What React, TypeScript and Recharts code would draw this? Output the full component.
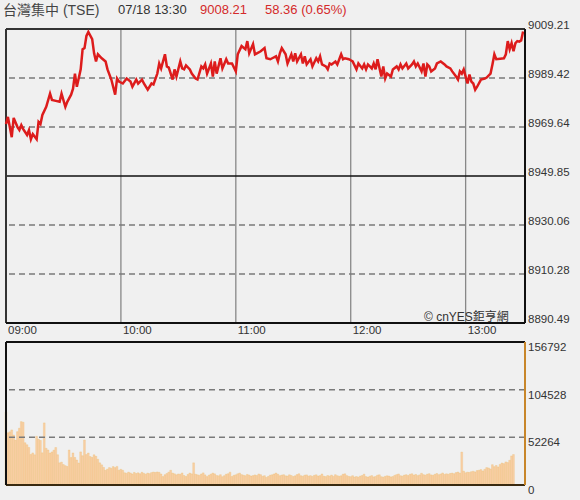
import { LineChart, Line, BarChart, Bar, XAxis, YAxis, ReferenceLine } from 'recharts';

// minutes after 09:00 and index level
const priceMinutes = [
  0, 1, 3, 4, 6, 7, 8, 9, 11, 12, 13, 14, 16, 17, 18, 19, 21, 23, 24, 26, 28, 29, 31, 32, 34, 35, 36, 37, 39, 40,
  41, 42, 43, 45, 46, 47, 48, 50, 52, 53, 55, 57, 58, 59, 61, 63, 65, 66, 68, 69, 71, 72, 74, 76, 77, 79, 80, 81, 83, 84,
  85, 87, 88, 89, 91, 92, 93, 94, 96, 97, 99, 100, 102, 103, 104, 105, 107, 108, 109, 110, 112, 113, 115, 116, 118, 120, 121, 123, 125, 126,
  127, 129, 130, 131, 133, 135, 136, 138, 139, 141, 142, 143, 144, 146, 147, 149, 150, 151, 152, 154, 155, 156, 157, 159, 160, 162, 163, 164, 165, 167,
  168, 169, 170, 172, 173, 175, 176, 177, 179, 180, 181, 183, 184, 186, 187, 188, 189, 191, 192, 193, 194, 196, 197, 198, 199, 201, 202, 204, 205, 206,
  207, 209, 210, 212, 213, 214, 215, 217, 218, 219, 220, 221, 222, 224, 225, 227, 229, 230, 232, 233, 235, 236, 237, 238, 239, 240, 241, 242, 243, 244,
  245, 246, 248, 250, 251, 253, 254, 255, 256, 258, 260, 261, 262, 263, 264, 265, 266, 267, 268, 269, 270,
];
const prices = [
  8970.8, 8973.7, 8965.5, 8973.3, 8969.6, 8968.4, 8970.4, 8968.8, 8966.4, 8968.4, 8964.7, 8966.8, 8964.7, 8971.7, 8970.8, 8974.5, 8977.8, 8983.1, 8980.6, 8980.2, 8979.8, 8983.1, 8977.8, 8979.8, 8982.7, 8985.1, 8991.2, 8985.9, 8992.9, 9001.0,
  9001.5, 9006.4, 9008.0, 9005.1, 8999.4, 8996.1, 8999.0, 8997.4, 8996.1, 8992.9, 8988.8, 8982.7, 8989.2, 8988.0, 8987.2, 8989.2, 8988.0, 8985.9, 8988.8, 8987.2, 8988.8, 8987.2, 8984.7, 8987.2, 8986.8, 8991.2, 8995.3, 8993.3, 8999.0, 8994.1,
  8993.6, 8988.8, 8992.9, 8990.0, 8996.1, 8993.3, 8992.9, 8994.5, 8992.9, 8991.2, 8989.2, 8988.8, 8994.1, 8993.3, 8994.9, 8991.2, 8995.3, 8990.0, 8996.1, 8991.2, 8997.4, 8993.3, 8997.0, 8995.3, 8995.3, 8992.1, 8999.0, 9002.3, 9001.0, 9004.3,
  8999.4, 9003.1, 8999.0, 8999.4, 9000.2, 9001.5, 8997.4, 8997.0, 8997.4, 8998.2, 8996.1, 8999.4, 9001.5, 8999.0, 8995.3, 8999.0, 8996.1, 8999.4, 8996.1, 8999.0, 8995.3, 8998.2, 8994.9, 8997.0, 8994.1, 8997.4, 8996.1, 8998.2, 8994.9, 8994.1,
  8992.9, 8995.3, 8994.9, 8996.1, 8994.9, 8999.0, 8997.0, 8997.4, 8997.0, 8996.6, 8996.1, 8992.9, 8995.3, 8993.3, 8994.9, 8992.9, 8994.9, 8993.3, 8995.3, 8992.9, 8997.0, 8990.0, 8994.1, 8989.2, 8991.2, 8990.0, 8992.9, 8994.1, 8992.9, 8994.9,
  8993.3, 8995.3, 8993.3, 8994.9, 8996.1, 8994.1, 8995.3, 8992.1, 8995.3, 8990.0, 8994.9, 8994.1, 8992.1, 8993.3, 8995.3, 8996.1, 8994.9, 8994.1, 8993.3, 8992.1, 8990.0, 8988.8, 8992.1, 8991.2, 8992.9, 8990.0, 8987.2, 8990.8, 8988.0, 8987.2,
  8984.7, 8985.9, 8988.8, 8989.2, 8989.6, 8991.2, 8994.9, 8999.0, 8997.0, 8997.2, 8997.4, 8999.0, 9004.3, 9001.0, 9003.5, 9000.2, 9003.5, 9004.3, 9004.1, 9004.6, 9008.21,
];

// one bar per minute from 09:00 to 13:25
const volumes = [
  80100, 57200, 58300, 60400, 54800, 49200, 58500, 62300, 69500, 68800,
  46300, 44100, 41200, 33500, 35200, 33100, 53400, 50200, 48900, 35300,
  68100, 40200, 38400, 35100, 36300, 38200, 41100, 33200, 24300, 25100,
  22400, 21200, 20300, 38400, 30100, 35200, 30200, 27400, 24100, 36300,
  32100, 49300, 33400, 35100, 31200, 30300, 33100, 31400, 28200, 24300,
  22100, 19300, 16200, 17400, 19100, 18300, 20200, 19100, 20400, 16300,
  17200, 16100, 13400, 12800, 14100, 13200, 12100, 13800, 12600, 13300,
  12400, 13900, 12800, 11900, 13100, 12500, 13600, 14200, 13800, 14300,
  13900, 12100, 9200, 11300, 12600, 14100, 16200, 13100, 12300, 11200,
  12100, 11800, 13200, 10400, 9300, 11600, 13100, 12200, 24300, 11900,
  11200, 10600, 12100, 13300, 11100, 9200, 10800, 11900, 13100, 12200,
  10400, 10100, 11300, 9100, 10200, 11800, 12400, 14100, 9300, 10600,
  11200, 12300, 13100, 11400, 10800, 10200, 11600, 10900, 9800, 10300,
  11100, 10400, 12100, 11300, 9600, 10200, 8300, 9400, 10800, 11200,
  12100, 13100, 11800, 10200, 10900, 11300, 10100, 9900, 11200, 10400,
  9300, 10100, 11400, 12300, 10200, 9600, 10800, 11100, 9800, 10300,
  9400, 10600, 11200, 9900, 10300, 12100, 9700, 9200, 10400, 9800,
  10900, 9500, 11300, 10200, 9600, 10100, 11800, 12200, 10300, 9400,
  9100, 10200, 8800, 9300, 8600, 9800, 10400, 11900, 9200, 8700,
  9600, 10300, 8900, 9400, 10800, 11200, 9100, 8600, 9500, 10100,
  9800, 8900, 9300, 10600, 11400, 12100, 10200, 9700, 10900, 11300,
  10400, 11800, 12300, 10900, 11600, 10300, 11100, 12900, 11400, 10800,
  11900, 12400, 11100, 10700, 11800, 12600, 11300, 12100, 13200, 11600,
  12300, 11800, 12700, 13100, 12400, 13600, 14200, 13100, 36100, 15200,
  13400, 14100, 13800, 14600, 15100, 14300, 15800, 16200, 16900, 15400,
  17200, 19100, 18700, 17600, 22300, 20100, 21400, 19800, 22600, 24100,
  23400, 25300, 24600, 27100, 31900, 33400,
];

const prevClose = 8949.85;
const priceTicks = [8890.49, 8910.28, 8930.06, 8949.85, 8969.64, 8989.42, 9009.21];
const volumeTicks = [0, 52264, 104528, 156792];
const timeTicks = [0, 60, 120, 180, 240];
const timeLabels = ['09:00', '10:00', '11:00', '12:00', '13:00'];

const FONT = '"Liberation Sans", Arial, sans-serif';
const CJK = '"Liberation Sans", "Noto Sans CJK TC", sans-serif';

const priceData = priceMinutes.map((m, i) => ({ m, p: prices[i] }));
const volumeData = volumes.map((v, i) => ({ m: i, v }));

const PriceTick = ({ x, y, payload }: any) => (
  <text x={x + 1} y={y - 3} fill="#333" fontSize={11.5} fontFamily={FONT} dominantBaseline="middle">
    {payload.value.toFixed(2)}
  </text>
);

const VolumeTick = ({ x, y, payload }: any) => (
  <text x={x + 1} y={y + 6} fill="#333" fontSize={11.5} fontFamily={FONT} dominantBaseline="middle">
    {payload.value}
  </text>
);

const TimeTick = ({ x, y, payload }: any) => (
  <text x={x + 2} y={y + 8} fill="#333" fontSize={11.5} fontFamily={FONT} dominantBaseline="middle">
    {timeLabels[timeTicks.indexOf(payload.value)]}
  </text>
);

const App = () => {
  return (
    <div style={{ position: 'absolute', left: 0, top: 0, width: 580, height: 500, background: '#f0f0f0', overflow: 'hidden' }}>
      {/* header */}
      <div style={{ position: 'absolute', left: 3, top: 0, lineHeight: '20px', fontFamily: CJK, fontSize: 14, color: '#444', whiteSpace: 'nowrap' }}>
        台灣集中 (TSE)
      </div>
      <div style={{ position: 'absolute', left: 118, top: 0, lineHeight: '20px', fontFamily: FONT, fontSize: 13, color: '#333' }}>
        07/18 13:30
      </div>
      <div style={{ position: 'absolute', left: 200, top: 0, lineHeight: '20px', fontFamily: FONT, fontSize: 13, color: '#d42a2a' }}>
        9008.21
      </div>
      <div style={{ position: 'absolute', left: 265, top: 0, lineHeight: '20px', fontFamily: FONT, fontSize: 13, color: '#d42a2a' }}>
        58.36 (0.65%)
      </div>

      {/* price */}
      <div style={{ position: 'absolute', left: 0, top: 0 }}>
        <LineChart width={580} height={341} data={priceData} margin={{ top: 29, right: 0, bottom: 0, left: 6 }}>
          <XAxis
            dataKey="m"
            type="number"
            domain={[0, 271]}
            ticks={timeTicks}
            interval={0}
            height={18}
            tickSize={0}
            tickMargin={0}
            tick={<TimeTick />}
            axisLine={{ stroke: '#111', strokeWidth: 2 }}
            tickLine={false}
          />
          <YAxis
            orientation="right"
            type="number"
            domain={[priceTicks[0], priceTicks[6]]}
            ticks={priceTicks}
            interval={0}
            width={55}
            tickSize={0}
            tick={<PriceTick />}
            axisLine={{ stroke: '#111', strokeWidth: 2 }}
            tickLine={false}
          />
          {[60, 120, 180, 240].map((t) => (
            <ReferenceLine key={t} x={t} stroke="#888" strokeWidth={1.3} />
          ))}
          {priceTicks.slice(1, 6).filter((v) => v !== prevClose).map((v) => (
            <ReferenceLine key={v} y={v} stroke="#7a7a7a" strokeWidth={1.5} strokeDasharray="6 4" />
          ))}
          <ReferenceLine y={prevClose} stroke="#111" strokeWidth={1.5} />
          <ReferenceLine y={priceTicks[6]} stroke="#333" strokeWidth={2} />
          <ReferenceLine x={0} stroke="#333" strokeWidth={2} />
          <Line type="linear" dataKey="p" stroke="#dd1c1c" strokeWidth={2.5} dot={false} isAnimationActive={false} />
        </LineChart>
      </div>

      <div style={{ position: 'absolute', left: 424, top: 309, lineHeight: '16px', fontFamily: CJK, fontSize: 12, color: '#333', whiteSpace: 'nowrap' }}>
        © cnYES鉅亨網
      </div>

      {/* volume */}
      <div style={{ position: 'absolute', left: 0, top: 340 }}>
        <BarChart width={580} height={160} data={volumeData} margin={{ top: 2, right: 0, bottom: 15, left: 6 }} barCategoryGap={0}>
          <XAxis dataKey="m" type="number" domain={[0, 271]} hide />
          <YAxis
            orientation="right"
            type="number"
            domain={[0, 156792]}
            ticks={volumeTicks}
            interval={0}
            width={55}
            tickSize={0}
            tick={<VolumeTick />}
            axisLine={{ stroke: '#c8862a', strokeWidth: 2 }}
            tickLine={false}
          />
          <ReferenceLine y={52264} stroke="#7a7a7a" strokeWidth={1.5} strokeDasharray="6 4" />
          <ReferenceLine y={104528} stroke="#7a7a7a" strokeWidth={1.5} strokeDasharray="6 4" />
          <Bar dataKey="v" fill="#f9cfa8" stroke="#ebb556" strokeWidth={0.25} barSize={1.8} isAnimationActive={false} />
          <ReferenceLine y={156792} stroke="#111" strokeWidth={2} />
          <ReferenceLine y={0} stroke="#3a2a10" strokeWidth={2} />
          <ReferenceLine x={0} stroke="#111" strokeWidth={2} />
        </BarChart>
      </div>
    </div>
  );
};

export default App;
